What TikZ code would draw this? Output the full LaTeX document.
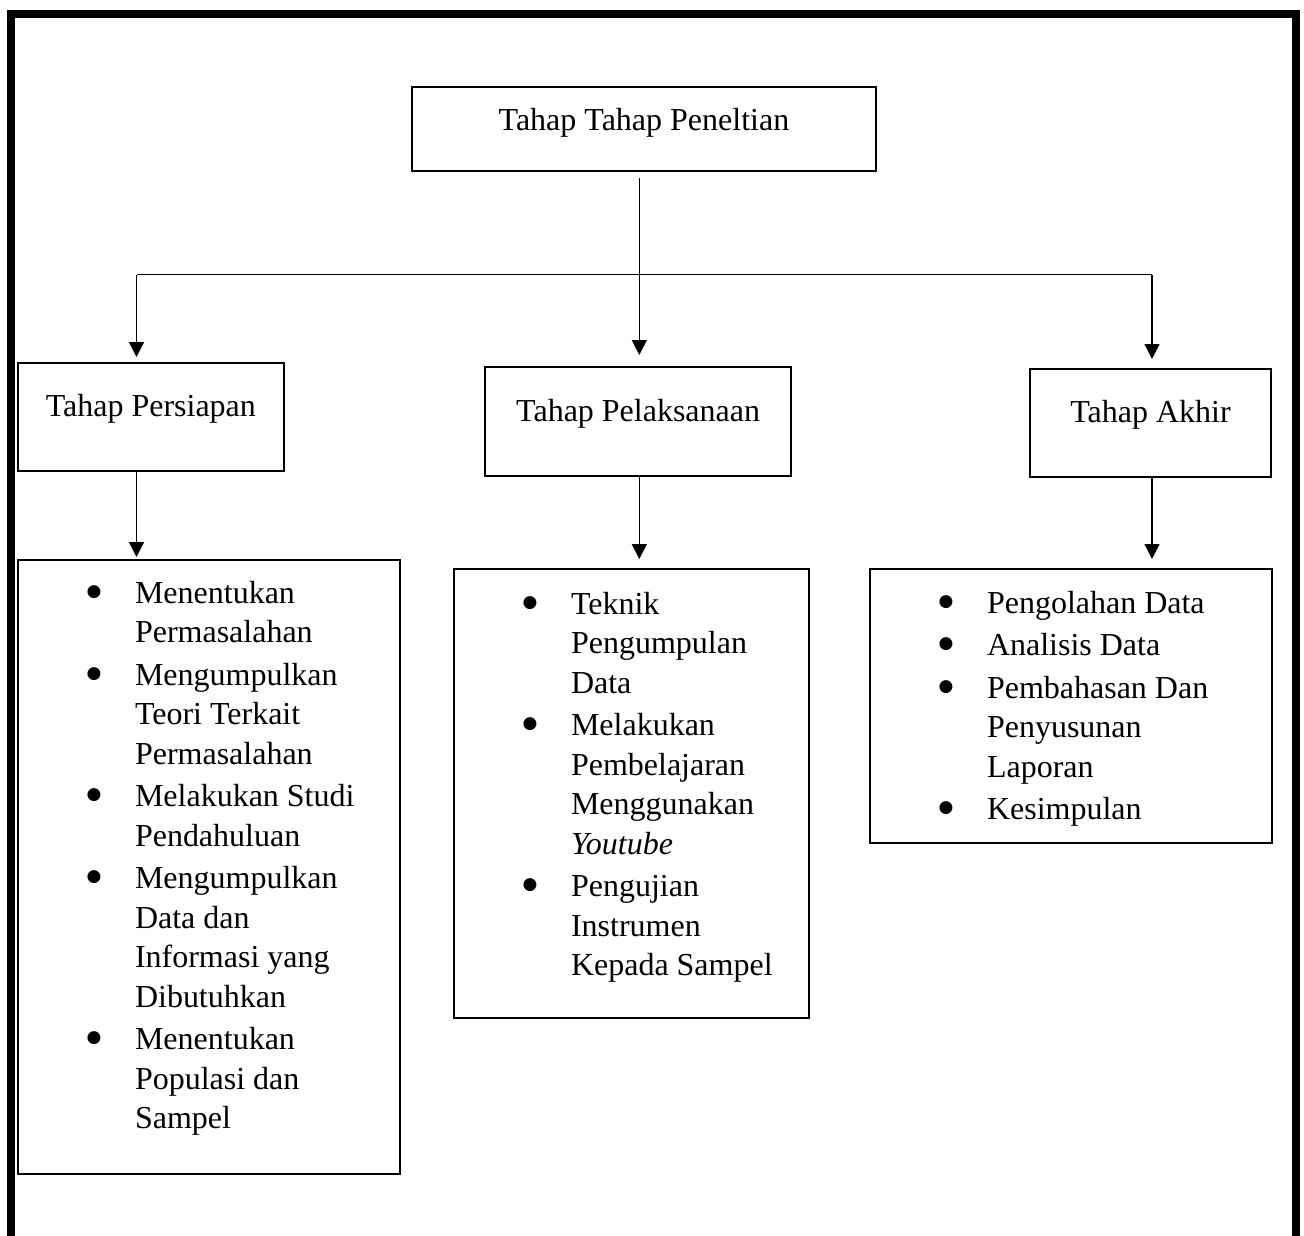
\documentclass[tikz,border=0pt]{standalone}
\usepackage{fontspec}
\setmainfont{Liberation Serif}
\newfontfamily\bulletfont{DejaVu Sans}
\usetikzlibrary{arrows.meta}
\newcommand\bodyfont{\fontsize{32pt}{39.5pt}\selectfont}
\newcommand\mybullet{\makebox[12pt][c]{\raisebox{7pt}{\bulletfont\fontsize{17pt}{17pt}\selectfont ●}}}
\newcommand\myitem[1]{\par\hangindent=117pt\hangafter=0\noindent\llap{\mybullet\hspace{35pt}}#1}
\newcommand\mylistbox[3]{\parbox[t][#1][t]{#2}{\bodyfont\raggedright\setlength\parskip{3pt}\setlength\parindent{0pt}#3\par}}
\tikzset{
  lbl/.style={draw, line width=2pt, inner sep=0pt, anchor=north west, font=\bodyfont},
  lst/.style={draw, line width=2pt, inner sep=0pt, anchor=north west},
  conn/.style={line width=1.3pt},
  arr/.style={line width=1.3pt, -{Triangle[width=15pt,length=15pt]}}
}
\begin{document}
\begin{tikzpicture}[x=1pt,y=1pt]
\useasboundingbox (0,0) rectangle (1304,-1236);
\fill[white] (0,0) rectangle (1304,-1236);
\draw[line width=8pt, line join=miter] (11,-1236) -- (11,-14) -- (1296,-14) -- (1296,-1236);

\node[lbl, minimum width=464.5pt, text height=43.6pt, text depth=40.7pt] (title) at (410.7,-85.7) {Tahap Tahap Peneltian};
\node[lbl, minimum width=266.3pt, text height=53.7pt, text depth=54.3pt] (prep) at (16.7,-362) {Tahap Persiapan};
\node[lbl, minimum width=305.7pt, text height=54.3pt, text depth=55.3pt] (exec) at (484.3,-365.7) {Tahap Pelaksanaan};
\node[lbl, minimum width=241pt, text height=53.7pt, text depth=54.3pt] (final) at (1029,-368) {Tahap Akhir};

\node[lst] (list1) at (17,-559) {\mylistbox{614pt}{382pt}{%
  \myitem{\rule{0pt}{43pt}Menentukan\newline Permasalahan}
  \myitem{Mengumpulkan\newline Teori Terkait\newline Permasalahan}
  \myitem{Melakukan Studi\newline Pendahuluan}
  \myitem{Mengumpulkan\newline Data dan\newline Informasi yang\newline Dibutuhkan}
  \myitem{Menentukan\newline Populasi dan\newline Sampel}}};
\node[lst] (list2) at (453,-568) {\mylistbox{449pt}{354.7pt}{%
  \myitem{\rule{0pt}{45pt}Teknik\newline Pengumpulan\newline Data}
  \myitem{Melakukan\newline Pembelajaran\newline Menggunakan\newline \textit{Youtube}}
  \myitem{Pengujian\newline Instrumen\newline Kepada Sampel}}};
\node[lst] (list3) at (869,-568) {\mylistbox{274pt}{402pt}{%
  \myitem{\rule{0pt}{44pt}Pengolahan Data}
  \myitem{Analisis Data}
  \myitem{Pembahasan Dan\newline Penyusunan\newline Laporan}
  \myitem{Kesimpulan}}};

\coordinate (jl) at (136.5,-274.5);
\coordinate (jc) at (639.3,-274.5);
\coordinate (jr) at (1152,-274.5);

\draw[conn] (jl) -- (jr);
\draw[arr, shorten <=6pt, shorten >=10.7pt] (title.south -| jc) -- (exec.north -| jc);
\draw[arr, shorten >=5pt] (jl) -- (prep.north -| jl);
\draw[arr, shorten >=9pt] (jr) -- (final.north -| jr);
\draw[arr, shorten >=2pt] (prep.south -| jl) -- (list1.north -| jl);
\draw[arr, shorten >=9pt] (exec.south -| jc) -- (list2.north -| jc);
\draw[arr, shorten >=9pt] (final.south -| jr) -- (list3.north -| jr);
\end{tikzpicture}
\end{document}
